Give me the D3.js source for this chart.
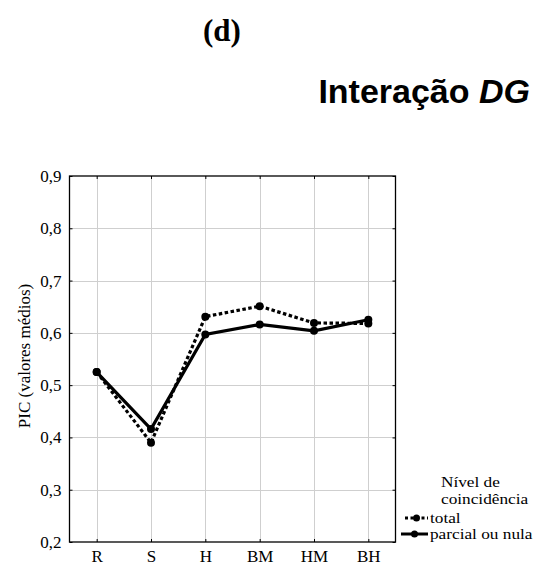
<!DOCTYPE html>
<html>
<head>
<meta charset="utf-8">
<script src="https://cdn.jsdelivr.net/npm/d3@7"></script>
<style>
  body { margin: 0; background: #fff; }
  svg text { fill: #000; }
</style>
</head>
<body>
<div id="chart"></div>
<script>
const categories = ["R", "S", "H", "BM", "HM", "BH"];
const totalValues = [0.525, 0.39, 0.631, 0.651, 0.619, 0.618];
const parcialValues = [0.525, 0.416, 0.597, 0.616, 0.604, 0.625];
const yTicks = [0.2, 0.3, 0.4, 0.5, 0.6, 0.7, 0.8, 0.9];
const seriesNames = ["total", "parcial ou nula"];

const width = 542, height = 566;
const plot = { left: 69.5, right: 395.5, top: 176, bottom: 542 };
const serif = "'Liberation Serif', 'Times New Roman', serif";
const sans = "'Liberation Sans', Arial, sans-serif";

const svg = d3.select("#chart").append("svg")
    .attr("width", width)
    .attr("height", height);

const x = d3.scalePoint()
    .domain(categories)
    .range([plot.left, plot.right])
    .padding(0.5);

const y = d3.scaleLinear()
    .domain([0.2, 0.9])
    .range([plot.bottom, plot.top]);

const fmt = d => d3.format(".1f")(d).replace(".", ",");

// titles
svg.append("text")
    .attr("x", 222).attr("y", 41)
    .attr("text-anchor", "middle")
    .style("font-family", serif)
    .style("font-weight", "bold")
    .style("font-size", "31px")
    .text("(d)");

const title = svg.append("text")
    .attr("x", 530).attr("y", 103)
    .attr("text-anchor", "end")
    .style("font-family", sans)
    .style("font-weight", "bold")
    .style("font-size", "34px");
title.append("tspan").text("Interação ");
title.append("tspan").style("font-style", "italic").text("DG");

// grid
const grid = svg.append("g");
grid.selectAll(".hg")
    .data(yTicks.slice(1, -1))
    .enter().append("line")
    .attr("x1", plot.left).attr("x2", plot.right)
    .attr("y1", d => Math.round(y(d)) + 0.5).attr("y2", d => Math.round(y(d)) + 0.5)
    .attr("stroke", "#cfcfcf").attr("stroke-width", 1);
grid.selectAll(".vg")
    .data(categories)
    .enter().append("line")
    .attr("x1", d => Math.round(x(d)) + 0.5).attr("x2", d => Math.round(x(d)) + 0.5)
    .attr("y1", plot.top).attr("y2", plot.bottom)
    .attr("stroke", "#cfcfcf").attr("stroke-width", 1);

// axes (ticks pointing inward)
const axisLeft = svg.append("g")
    .attr("transform", `translate(${plot.left},0)`)
    .call(d3.axisLeft(y).tickValues(yTicks).tickFormat(fmt).tickSize(-3).tickPadding(8));
const axisRight = svg.append("g")
    .attr("transform", `translate(${plot.right},0)`)
    .call(d3.axisRight(y).tickValues(yTicks).tickFormat("").tickSize(-3));
const axisBottom = svg.append("g")
    .attr("transform", `translate(0,${plot.bottom})`)
    .call(d3.axisBottom(x).tickSize(-3).tickPadding(8));
const axisTop = svg.append("g")
    .attr("transform", `translate(0,${plot.top})`)
    .call(d3.axisTop(x).tickFormat("").tickSize(-3));

[axisLeft, axisRight, axisBottom, axisTop].forEach(a => {
    a.select(".domain").remove();
    a.selectAll("line").attr("stroke", "#000");
    a.selectAll("text")
        .style("font-family", serif)
        .style("font-size", "17px")
        .attr("fill", "#000");
});

svg.append("rect")
    .attr("x", plot.left).attr("y", plot.top)
    .attr("width", plot.right - plot.left)
    .attr("height", plot.bottom - plot.top)
    .attr("fill", "none")
    .attr("stroke", "#000")
    .attr("stroke-width", 1.3);

// y label
svg.append("text")
    .attr("transform", `translate(30,${(plot.top + plot.bottom) / 2 - 3}) rotate(-90)`)
    .attr("text-anchor", "middle")
    .style("font-family", serif)
    .style("font-size", "17px")
    .text("PIC (valores médios)");

// lines
const line = d3.line()
    .x((d, i) => x(categories[i]))
    .y(d => y(d));

svg.append("path")
    .datum(totalValues)
    .attr("d", line)
    .attr("fill", "none")
    .attr("stroke", "#000")
    .attr("stroke-width", 3.2)
    .attr("stroke-dasharray", "3.5,2.5");

svg.append("path")
    .datum(parcialValues)
    .attr("d", line)
    .attr("fill", "none")
    .attr("stroke", "#000")
    .attr("stroke-width", 3.2);

[totalValues, parcialValues].forEach(vals => {
    svg.append("g").selectAll("circle")
        .data(vals)
        .enter().append("circle")
        .attr("cx", (d, i) => x(categories[i]))
        .attr("cy", d => y(d))
        .attr("r", 4)
        .attr("fill", "#000");
});

// legend (text slightly widened, like the reference)
const legend = svg.append("g")
    .style("font-family", serif)
    .style("font-size", "15px");
const legendText = (lx, ly, t) => legend.append("text")
    .attr("transform", `translate(${lx},${ly}) scale(1.15,1)`)
    .text(t);
legendText(441, 487, "Nível de");
legendText(441, 504, "coincidência");

seriesNames.forEach((name, i) => {
    const cy = 518 + i * 16;
    const x0 = i === 0 ? 405 : 401;
    legend.append("line")
        .attr("x1", x0).attr("x2", 428)
        .attr("y1", cy).attr("y2", cy)
        .attr("stroke", "#000")
        .attr("stroke-width", 3)
        .attr("stroke-dasharray", i === 0 ? "3,2.5" : null);
    legend.append("circle")
        .attr("cx", (x0 + 428) / 2).attr("cy", cy)
        .attr("r", 3.5).attr("fill", "#000");
    legendText(430, cy + 5, name);
});
</script>
</body>
</html>
